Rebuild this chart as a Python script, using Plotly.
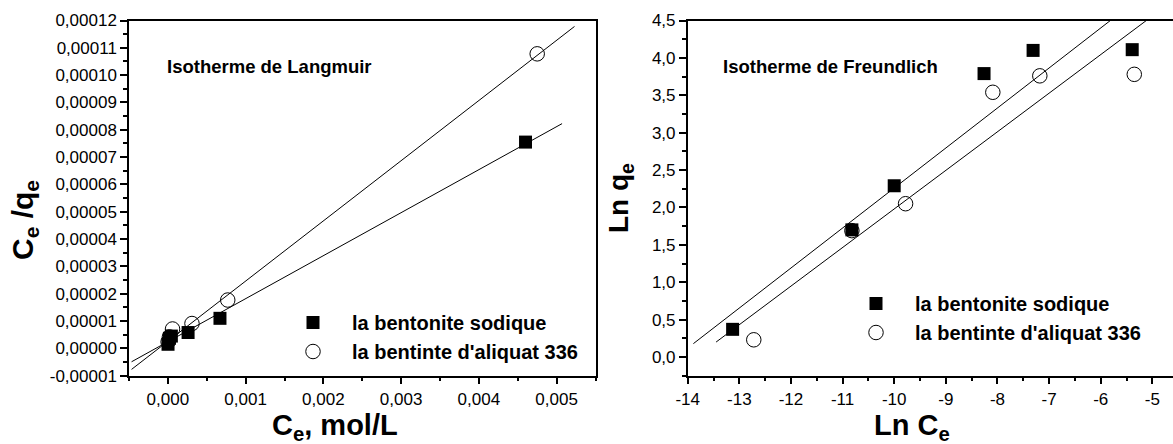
import plotly.graph_objects as go

W, H = 1173, 444

# ---------------- data: Langmuir (left) ----------------
lang_ce_sodique = [0.000002, 0.00002, 0.000045, 0.00026, 0.00067, 0.0046]
lang_ceqe_sodique = [0.15e-5, 0.37e-5, 0.45e-5, 0.58e-5, 1.10e-5, 7.55e-5]
lang_ce_aliquat = [0.000003, 0.00002, 0.00006, 0.00031, 0.00077, 0.00475]
lang_ceqe_aliquat = [0.24e-5, 0.42e-5, 0.71e-5, 0.91e-5, 1.77e-5, 10.78e-5]
# linear fits (slope, intercept, x-span)
lang_fit_slope = [0.01574, 0.02203]
lang_fit_intercept = [0.245e-5, 0.26e-5]
lang_fit_xspan = [[-0.000467, 0.00507], [-0.000467, 0.00523]]

# ---------------- data: Freundlich (right) ----------------
freu_lnce_sodique = [-13.13, -10.82, -10.00, -8.26, -7.31, -5.39]
freu_lnqe_sodique = [0.37, 1.70, 2.29, 3.79, 4.10, 4.11]
freu_lnce_aliquat = [-12.72, -10.82, -9.78, -8.09, -7.18, -5.35]
freu_lnqe_aliquat = [0.23, 1.69, 2.05, 3.54, 3.76, 3.78]
freu_fit_slope = [0.535, 0.516]
freu_fit_intercept = [7.61, 7.14]
freu_fit_xspan = [[-13.89, -4.0], [-13.45, -4.0]]

series_names = ["la bentonite sodique", "la bentinte d'aliquat 336"]

# ---------------- tick labels ----------------
lang_x_ticks = ["0,000", "0,001", "0,002", "0,003", "0,004", "0,005"]
lang_y_ticks = ["-0,00001", "0,00000", "0,00001", "0,00002", "0,00003", "0,00004",
                "0,00005", "0,00006", "0,00007", "0,00008", "0,00009", "0,00010",
                "0,00011", "0,00012"]
freu_x_ticks = ["-14", "-13", "-12", "-11", "-10", "-9", "-8", "-7", "-6", "-5"]
freu_y_ticks = ["0,0", "0,5", "1,0", "1,5", "2,0", "2,5", "3,0", "3,5", "4,0", "4,5"]


def vals(labels):
    return [float(t.replace(",", ".")) for t in labels]


FONT = "Liberation Sans, Arial, sans-serif"
fig = go.Figure()

# fit lines
for k in range(2):
    xs = lang_fit_xspan[k]
    fig.add_trace(go.Scatter(x=xs, y=[lang_fit_slope[k] * v + lang_fit_intercept[k] for v in xs],
                             mode="lines", line=dict(color="black", width=1),
                             showlegend=False, xaxis="x", yaxis="y", hoverinfo="skip"))
    xs = freu_fit_xspan[k]
    fig.add_trace(go.Scatter(x=xs, y=[freu_fit_slope[k] * v + freu_fit_intercept[k] for v in xs],
                             mode="lines", line=dict(color="black", width=1),
                             showlegend=False, xaxis="x2", yaxis="y2", hoverinfo="skip"))

sq = dict(symbol="square", size=13, color="black")
ci = dict(symbol="circle-open", size=14.5, color="black", line=dict(width=1, color="black"))

fig.add_trace(go.Scatter(x=lang_ce_sodique, y=lang_ceqe_sodique, mode="markers", marker=sq,
                         name=series_names[0], xaxis="x", yaxis="y", legend="legend", cliponaxis=False))
fig.add_trace(go.Scatter(x=lang_ce_aliquat, y=lang_ceqe_aliquat, mode="markers", marker=ci,
                         name=series_names[1], xaxis="x", yaxis="y", legend="legend", cliponaxis=False))
fig.add_trace(go.Scatter(x=freu_lnce_sodique, y=freu_lnqe_sodique, mode="markers", marker=sq,
                         name=series_names[0], xaxis="x2", yaxis="y2", legend="legend2", cliponaxis=False))
fig.add_trace(go.Scatter(x=freu_lnce_aliquat, y=freu_lnqe_aliquat, mode="markers", marker=ci,
                         name=series_names[1], xaxis="x2", yaxis="y2", legend="legend2", cliponaxis=False))


def px(x):
    return x / W


def py(y):
    return 1 - y / H


axis_common = dict(showline=True, linecolor="black", linewidth=1.5, ticks="outside",
                   ticklen=7, tickwidth=1.5, tickcolor="black", showgrid=False, zeroline=False,
                   automargin=False,
                   tickfont=dict(family=FONT, size=17, color="black"), tickmode="array")
minor_common = dict(ticks="outside", ticklen=4, tickwidth=1.5, tickcolor="black", showgrid=False)
legend_font = dict(family=FONT, size=20, color="black", weight="bold")

fig.update_layout(
    width=W, height=H,
    margin=dict(l=0, r=0, t=0, b=0, autoexpand=False),
    paper_bgcolor="white", plot_bgcolor="white",
    font=dict(family=FONT, color="black"),
    xaxis=dict(axis_common, domain=[px(129), px(595.5)], range=[-0.0005, 0.0055],
               tickvals=vals(lang_x_ticks), ticktext=lang_x_ticks, mirror=True, anchor="y",
               minor=dict(minor_common, tickmode="linear", tick0=0, dtick=0.0005)),
    yaxis=dict(axis_common, domain=[py(375.7), py(20.5)], range=[-0.00001, 0.00012],
               tickvals=vals(lang_y_ticks), ticktext=lang_y_ticks, mirror=True, anchor="x",
               minor=dict(minor_common, tickmode="linear", tick0=0, dtick=0.000005)),
    xaxis2=dict(axis_common, domain=[px(687.7), 1.0], range=[-14, -4.6],
                tickvals=vals(freu_x_ticks), ticktext=freu_x_ticks, mirror=True, anchor="y2",
                minor=dict(minor_common, tickmode="linear", tick0=0, dtick=0.5)),
    yaxis2=dict(axis_common, domain=[py(375.7), py(20.5)], range=[-0.25, 4.5],
                tickvals=vals(freu_y_ticks), ticktext=freu_y_ticks, mirror=False, anchor="x2",
                minor=dict(minor_common, tickmode="linear", tick0=0, dtick=0.25)),
    legend=dict(x=px(274), y=py(303), xanchor="left", yanchor="top",
                bgcolor="rgba(0,0,0,0)", font=legend_font, itemwidth=68, tracegroupgap=0),
    legend2=dict(x=px(837), y=py(284), xanchor="left", yanchor="top",
                 bgcolor="rgba(0,0,0,0)", font=legend_font, itemwidth=68, tracegroupgap=0),
)

ann = []
ann.append(dict(text="Isotherme de Langmuir", x=px(165), y=py(66), xref="paper", yref="paper",
                xanchor="left", yanchor="middle", showarrow=False,
                font=dict(family=FONT, size=18.5, color="black", weight="bold")))
ann.append(dict(text="Isotherme de Freundlich", x=px(721), y=py(66), xref="paper", yref="paper",
                xanchor="left", yanchor="middle", showarrow=False,
                font=dict(family=FONT, size=18.5, color="black", weight="bold")))
ann.append(dict(text="C<sub>e</sub>, mol/L", x=px(335), y=py(427), xref="paper", yref="paper",
                xanchor="center", yanchor="middle", showarrow=False,
                font=dict(family=FONT, size=29, color="black", weight="bold")))
ann.append(dict(text="Ln C<sub>e</sub>", x=px(912), y=py(427), xref="paper", yref="paper",
                xanchor="center", yanchor="middle", showarrow=False,
                font=dict(family=FONT, size=29, color="black", weight="bold")))
ann.append(dict(text="C<sub>e</sub> /q<sub>e</sub>", x=px(24), y=py(220), xref="paper", yref="paper",
                xanchor="center", yanchor="middle", showarrow=False, textangle=-90,
                font=dict(family=FONT, size=30, color="black", weight="bold")))
ann.append(dict(text="Ln q<sub>e</sub>", x=px(620), y=py(198), xref="paper", yref="paper",
                xanchor="center", yanchor="middle", showarrow=False, textangle=-90,
                font=dict(family=FONT, size=28, color="black", weight="bold")))
fig.update_layout(annotations=ann)

fig.write_html("out.html")
